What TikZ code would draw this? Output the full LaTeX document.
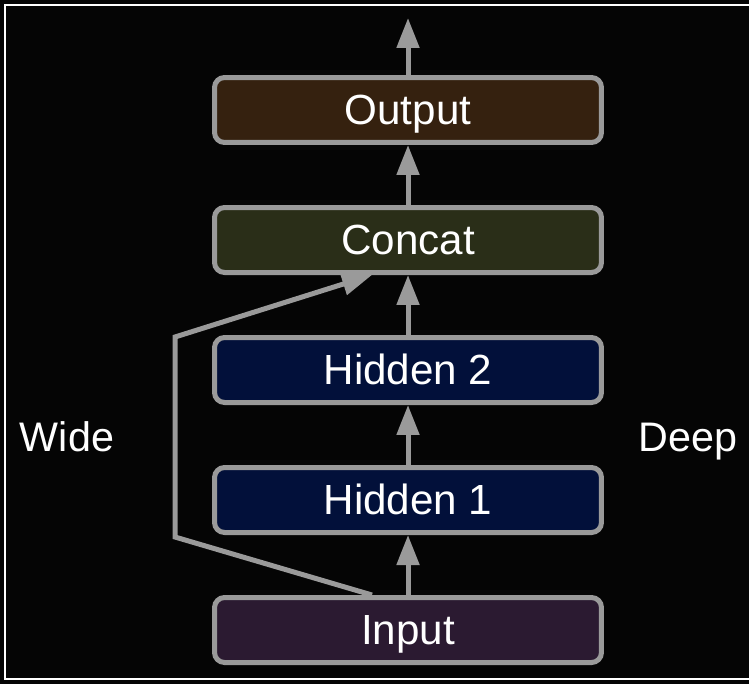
\documentclass[tikz,border=0pt]{standalone}
\usepackage{fontspec}
\setmainfont{Liberation Sans}
\usetikzlibrary{arrows.meta,positioning}
\definecolor{bg}{HTML}{050505}
\definecolor{edgegray}{HTML}{9A9A9A}
\definecolor{outfill}{HTML}{35210F}
\definecolor{catfill}{HTML}{2A2E18}
\definecolor{hidfill}{HTML}{02103A}
\definecolor{inpfill}{HTML}{2B1A31}
\tikzset{layer/.style={rectangle, rounded corners=0.2cm, draw=edgegray, line width=0.1cm, minimum width=7.74cm, minimum height=1.3cm, text=white, text height=0.58cm, text depth=0pt, inner ysep=0pt, font=\fontsize{24}{28}\selectfont},
lbl/.style={text=white, inner sep=0pt, text height=0.58cm, text depth=0pt, font=\fontsize{23.5}{28}\selectfont},
fwd/.style={draw=edgegray, line width=0.1cm, -{Triangle[width=0.44cm,length=0.6cm]}}}

\begin{document}
\begin{tikzpicture}[x=0.02cm, y=-0.02cm]
\useasboundingbox (0,0) rectangle (749,683);
\fill[bg] (-20,-20) rectangle (769,703);
\draw[white, line width=0.035cm] (770,5) -- (5,5) -- (5,679) -- (770,679);
\node[layer, fill=inpfill] (inp) at (408,630) {Input};
\node[layer, fill=hidfill] (h1) at (408,500) {Hidden 1};
\node[layer, fill=hidfill] (h2) at (408,370) {Hidden 2};
\node[layer, fill=catfill] (cat) at (408,240) {Concat};
\node[layer, fill=outfill] (out) at (408,110) {Output};
\node[lbl] (wide) at (67,437) {Wide};
\node[lbl] (deep) at (688,437) {Deep};
\coordinate (top) at (408,18);
\coordinate (w1) at (175,537);
\coordinate (w2) at (175,337);
\draw[fwd] (inp) -- (h1);
\draw[fwd] (h1) -- (h2);
\draw[fwd] (h2) -- (cat);
\draw[fwd] (cat) -- (out);
\draw[fwd] (out) -- (top);
\draw[fwd, line join=miter] ([xshift=-0.72cm]inp.north) -- (w1) -- (w2) -- ([xshift=-0.72cm]cat.south);
\end{tikzpicture}
\end{document}
